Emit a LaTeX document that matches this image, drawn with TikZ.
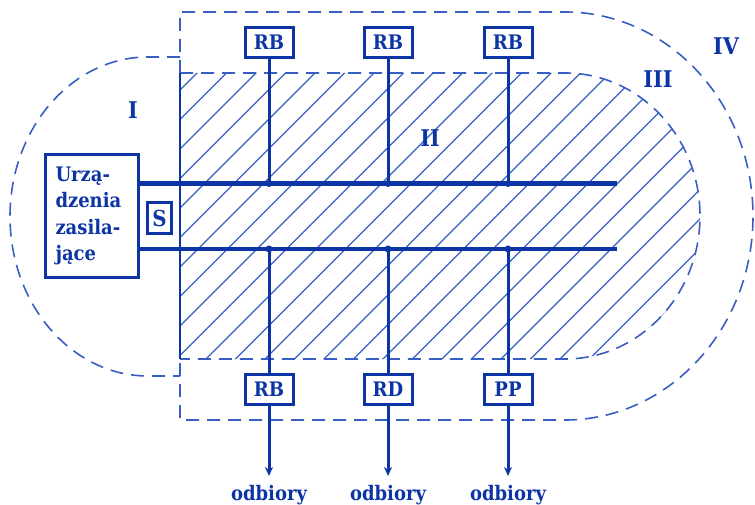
\documentclass[tikz,border=0pt]{standalone}
\usepackage{fontspec}
\setmainfont{DejaVu Serif Condensed}
\usetikzlibrary{arrows.meta}
\definecolor{mainblue}{RGB}{12,52,165}
\definecolor{lightblue}{RGB}{55,95,195}
\tikzset{
  x=1pt, y=1pt,
  zone/.style={draw=lightblue, line width=1.6pt, dash pattern=on 13pt off 8pt},
  hatch/.style={draw=lightblue, line width=1.3pt},
  bus/.style={draw=mainblue, line width=4.5pt},
  bus2/.style={draw=mainblue, line width=3.5pt},
  feeder/.style={draw=mainblue, line width=3pt},
  devbox/.style={draw=mainblue, line width=3pt, fill=white, minimum width=48pt, minimum height=30pt, inner sep=0pt, text=mainblue, font=\bfseries\fontsize{20}{22}\selectfont},
  junction/.style={circle, fill=mainblue, inner sep=0pt, minimum size=7pt},
  zonelabel/.style={text=mainblue, font=\bfseries\fontsize{23}{26}\selectfont},
  loadlabel/.style={text=mainblue, font=\bfseries\fontsize{20}{24}\selectfont, anchor=base},
}
\begin{document}
\begin{tikzpicture}
\useasboundingbox (0,0) rectangle (755,-505);
% hatched zone III
\begin{scope}
  \clip (180,-73) -- (565,-73) arc[start angle=90, end angle=-90, x radius=135, y radius=143] -- (180,-359) -- cycle;
  \foreach \k in {-10,...,20} {
    \pgfmathsetmacro{\c}{506+29.5*\k}
    \draw[hatch] (\c-420,-420) -- (\c,0);
  }
\end{scope}
% zone outlines
\draw[zone] (180,-73) -- (565,-73) arc[start angle=90, end angle=-90, x radius=135, y radius=143] -- (180,-359);
\draw[zone] (180,-73) -- (180,-12) -- (565,-12) arc[start angle=90, end angle=-90, x radius=188, y radius=204] -- (180,-420) -- (180,-359);
\draw[zone] (180,-57) -- (148,-57) arc[start angle=90, end angle=270, x radius=138, y radius=159.5] -- (180,-376);
\draw[mainblue, line width=2.8pt] (180,-73) -- (180,-359);
% zone labels
\node[zonelabel] (zI) at (133,-110) {I};
\node[zonelabel] (zII) at (430,-138) {II};
\node[zonelabel] (zIII) at (658,-79) {III};
\node[zonelabel] (zIV) at (726,-46) {IV};
% supply box
\node[draw=mainblue, line width=3pt, fill=white, minimum width=93pt, minimum height=122pt, inner xsep=10pt, text=mainblue, align=left, text width=72pt, font=\bfseries\fontsize{20}{26.5}\selectfont] (zas) at (91.5,-216) {Urzą-\\dzenia\\zasila-\\jące};
\node[draw=mainblue, line width=2.5pt, minimum width=24pt, minimum height=31pt, inner sep=0pt, text=mainblue, font=\bfseries\fontsize{22}{26}\selectfont] (S) at (159.5,-218) {S};
% buses
\coordinate (b1s) at (zas.east |- 0,-183.5);
\coordinate (b1e) at (617,-183.5);
\coordinate (b2s) at (zas.east |- 0,-249);
\coordinate (b2e) at (617,-249);
\draw[bus] (b1s) -- (b1e);
\draw[bus2] (b2s) -- (b2e);
% top feeders
\node[devbox] (t1) at (269,-42.5) {RB};
\node[devbox] (t2) at (388,-42.5) {RB};
\node[devbox] (t3) at (508,-42.5) {RB};
\node[junction] (j1) at (269,-183.5) {};
\node[junction] (j2) at (388,-183.5) {};
\node[junction] (j3) at (508,-183.5) {};
\draw[feeder] (t1) -- (j1.center);
\draw[feeder] (t2) -- (j2.center);
\draw[feeder] (t3) -- (j3.center);
% bottom feeders
\node[devbox] (d1) at (269,-389.5) {RB};
\node[devbox] (d2) at (388,-389.5) {RD};
\node[devbox] (d3) at (508,-389.5) {PP};
\node[junction] (k1) at (269,-249) {};
\node[junction] (k2) at (388,-249) {};
\node[junction] (k3) at (508,-249) {};
\draw[feeder] (k1.center) -- (d1);
\draw[feeder] (k2.center) -- (d2);
\draw[feeder] (k3.center) -- (d3);
\coordinate (e1) at (269,-476);
\coordinate (e2) at (388,-476);
\coordinate (e3) at (508,-476);
\draw[feeder, -{Stealth[length=9pt, width=8pt]}] (d1) -- (e1);
\draw[feeder, -{Stealth[length=9pt, width=8pt]}] (d2) -- (e2);
\draw[feeder, -{Stealth[length=9pt, width=8pt]}] (d3) -- (e3);
\node[loadlabel] (o1) at (269,-500) {odbiory};
\node[loadlabel] (o2) at (388,-500) {odbiory};
\node[loadlabel] (o3) at (508,-500) {odbiory};
\end{tikzpicture}
\end{document}
